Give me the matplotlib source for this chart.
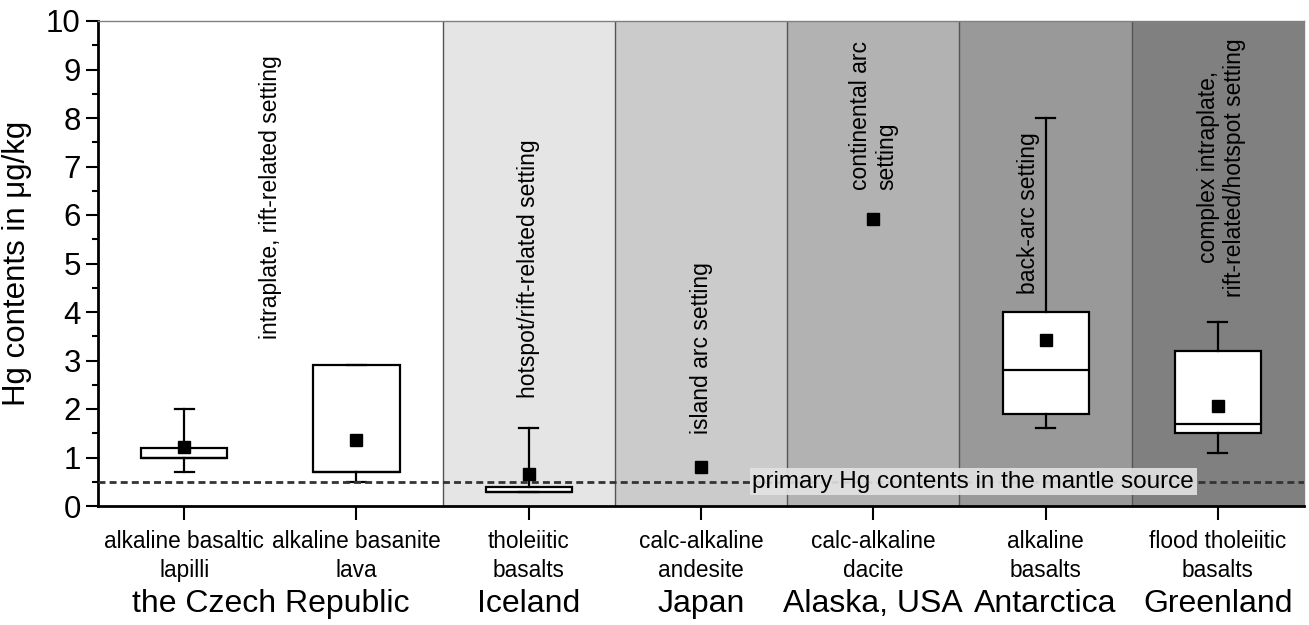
import matplotlib.pyplot as plt
from matplotlib.transforms import blended_transform_factory

plt.rcParams['font.family'] = ['Liberation Sans', 'DejaVu Sans']

# data (Hg in ug/kg)
rock_types = ["alkaline basaltic\nlapilli", "alkaline basanite\nlava", "tholeiitic\nbasalts",
              "calc-alkaline\nandesite", "calc-alkaline\ndacite", "alkaline\nbasalts",
              "flood tholeiitic\nbasalts"]
countries = ["the Czech Republic", "Iceland", "Japan", "Alaska, USA", "Antarctica", "Greenland"]
country_pos = [1.0, 2.5, 3.5, 4.5, 5.5, 6.5]
settings = ["intraplate, rift-related setting", "hotspot/rift-related setting",
            "island arc setting", "continental arc\nsetting", "back-arc setting",
            "complex intraplate,\nrift-related/hotspot setting"]

# boxes only for groups with a distribution (index into rock_types)
box_idx = [0, 1, 2, 5, 6]
q1 = [1.0, 0.7, 0.28, 1.9, 1.5]
q3 = [1.2, 2.9, 0.4, 4.0, 3.2]
med = [1.0, 0.7, 0.28, 2.8, 1.7]
whislo = [0.7, 0.5, 0.28, 1.6, 1.1]
whishi = [2.0, 2.9, 1.6, 8.0, 3.8]
means = [1.22, 1.36, 0.66, 0.80, 5.92, 3.42, 2.07]

mantle = 0.5

bg_colors = ["white", "white", "#e5e5e5", "#cbcbcb", "#b2b2b2", "#999999", "#808080"]

fig = plt.figure(figsize=(13.09, 6.25), dpi=100)
ax = fig.add_axes([0.0749, 0.1904, 0.9213, 0.776])

xpos = [i + 0.5 for i in range(len(rock_types))]

# shaded backgrounds per region
for i, c in enumerate(bg_colors):
    ax.axvspan(i, i + 1, color=c, zorder=0, lw=0)
for b in [2, 3, 4, 5, 6]:
    ax.axvline(b, color="#555555", lw=1, zorder=1)

stats = []
for k in range(len(box_idx)):
    stats.append({"med": med[k], "q1": q1[k], "q3": q3[k],
                  "whislo": whislo[k], "whishi": whishi[k]})
ax.bxp(stats, positions=[xpos[i] for i in box_idx], widths=0.5, capwidths=0.11,
       patch_artist=True, showfliers=False, manage_ticks=False,
       boxprops=dict(facecolor="white", edgecolor="black", lw=1.6),
       medianprops=dict(color="black", lw=1.6),
       whiskerprops=dict(color="black", lw=1.6),
       capprops=dict(color="black", lw=1.6), zorder=3)

ax.plot(xpos, means, ls="none", marker="s", ms=8.5, color="black", zorder=5)

# primary mantle level
ax.axhline(mantle, color="#333333", lw=2, ls=(0, (2.5, 1.5)), zorder=4)
ax.text(5.08, mantle, "primary Hg contents in the mantle source", fontsize=17.5,
        ha="center", va="center", zorder=4,
        bbox=dict(facecolor="#e3e3e3", alpha=0.9, edgecolor="none", pad=2))

# setting annotations
set_x = [1.0, 2.5, 3.5, 4.5, 5.4, 6.52]
set_y = [9.3, 7.55, 5.03, 6.52, 7.71, 9.65]
set_va = ["top", "top", "top", "bottom", "top", "top"]
set_ma = ["center", "center", "center", "left", "center", "center"]
for x, y, s, va, ma in zip(set_x, set_y, settings, set_va, set_ma):
    ax.text(x, y, s, rotation=90, fontsize=16.5, ha="center", va=va,
            multialignment=ma, zorder=6)

ax.set_xlim(0, 7)
ax.set_ylim(0, 10)
ax.set_yticks(range(0, 11))
ax.set_yticks([i + 0.5 for i in range(10)], minor=True)
ax.set_xticks(xpos)
ax.set_xticklabels(rock_types, fontsize=16.3, linespacing=1.35)
ax.tick_params(axis="y", which="major", labelsize=22.5, length=9, width=1.5)
ax.tick_params(axis="y", which="minor", length=4, width=1.5)
ax.tick_params(axis="x", length=10, width=1.5, pad=7)
ax.set_ylabel("Hg contents in μg/kg", fontsize=22.5, labelpad=10)

trans = blended_transform_factory(ax.transData, ax.transAxes)
for x, c in zip(country_pos, countries):
    ax.text(x, -0.202, c, transform=trans, fontsize=23, ha="center", va="center")

for s in ["left", "bottom"]:
    ax.spines[s].set_linewidth(2)
for s in ["top", "right"]:
    ax.spines[s].set_linewidth(1)
    ax.spines[s].set_color("#808080")

fig.savefig("out.png", dpi=100)
